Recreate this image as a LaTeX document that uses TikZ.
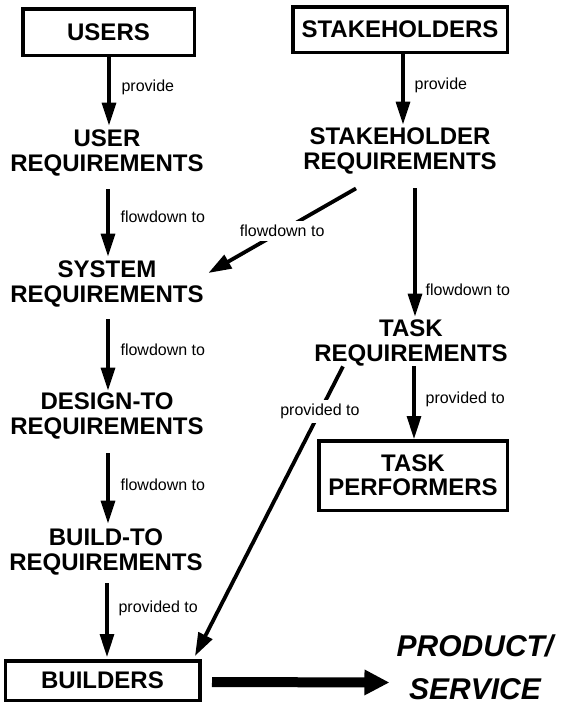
\documentclass[tikz,border=0pt]{standalone}
\usepackage{fontspec}
\setmainfont{Liberation Sans}
\usetikzlibrary{arrows.meta,calc}
\tikzset{
  box/.style={draw, line width=3.5pt, inner sep=0pt, align=center,
    font=\bfseries\fontsize{24}{24}\selectfont},
  req/.style={inner sep=0pt, align=center,
    font=\bfseries\fontsize{24}{25}\selectfont},
  lbl/.style={inner sep=0pt, font=\fontsize{16}{18}\selectfont},
  cutlbl/.style={fill=white, inner sep=4pt, font=\fontsize{16}{18}\selectfont},
  arr/.style={line width=3.2pt, -{Triangle[length=23pt,width=14pt]}},
  diagarr/.style={line width=3.8pt, -{Triangle[length=23pt,width=15pt]}},
  bigarr/.style={line width=10pt, -{Triangle[length=25pt,width=24pt]}},
}
\begin{document}
\begin{tikzpicture}[x=1pt, y=-1pt]
\useasboundingbox[fill=white] (0,0) rectangle (572,707);

% sources and sinks
\node[box, minimum width=171.5pt, minimum height=46.5pt] (users) at (108.5,32) {USERS};
\node[box, minimum width=214.5pt, minimum height=45.5pt] (stake) at (400,29.5) {STAKEHOLDERS};
\node[box, minimum width=188.5pt, minimum height=69.5pt] (tperf) at (413,475.5) {TASK\\PERFORMERS};
\node[box, minimum width=194.5pt, minimum height=39.5pt] (builders) at (102.5,680.5) {BUILDERS};

% requirement levels
\node[req] (ureq)   at (107,152.5) {USER\\REQUIREMENTS};
\node[req] (sreq)   at (400,151)   {STAKEHOLDER\\REQUIREMENTS};
\node[req] (sysreq) at (107,284)   {SYSTEM\\REQUIREMENTS};
\node[req] (treq)   at (411,343)   {TASK\\REQUIREMENTS};
\node[req] (dreq)   at (107,416)   {DESIGN-TO\\REQUIREMENTS};
\node[req] (breq)   at (106,552)   {BUILD-TO\\REQUIREMENTS};
\node[inner sep=0pt, align=center, font=\bfseries\itshape\fontsize{30}{43}\selectfont]
  (product) at (475,667) {PRODUCT/\\SERVICE};

% flows
\draw[arr] ($(users.south)+(0.5,0)$) -- node[lbl, pos=.44, right=11pt] {provide} ($(ureq.north)+(2,-3.5)$);
\draw[arr] ($(stake.south)+(3,0)$) -- node[lbl, pos=.44, right=10pt] {provide} ($(sreq.north)+(3,-3)$);
\draw[arr] ($(ureq.south)+(1,13.5)$) -- node[lbl, pos=.41, right=11pt] {flowdown to} ($(sysreq.north)+(1,-4)$);
\draw[diagarr] ($(sreq.south)+(-44,14)$) -- node[cutlbl, pos=.5] {flowdown to} ($(sysreq.east)+(4.5,-11)$);
\draw[arr] ($(sreq.south)+(15,14)$) -- node[lbl, pos=.79, right=9pt] {flowdown to} ($(treq.north)+(4,-3)$);
\draw[arr] ($(sysreq.south)+(1,12)$) -- node[lbl, pos=.43, right=11pt] {flowdown to} ($(dreq.north)+(1,-2)$);
\draw[arr] ($(treq.south)+(3,0)$) -- node[lbl, pos=.45, right=10pt] {provided to} ($(tperf.north)+(1,0)$);
\draw[diagarr] ($(treq.south)+(-68,0)$) -- node[cutlbl, pos=.156] {provided to} ($(builders.north east)+(-6.5,-3)$);
\draw[arr] ($(dreq.south)+(1,14)$) -- node[lbl, pos=.45, right=11pt] {flowdown to} ($(breq.north)+(2,-5)$);
\draw[arr] ($(breq.south)+(1,8)$) -- node[lbl, pos=.34, right=10pt] {provided to} ($(builders.north)+(4.5,-2)$);
\draw[bigarr] ($(builders.east)+(10.5,1.5)$) -- ($(product.west)+(-7,15.5)$);
\end{tikzpicture}
\end{document}
